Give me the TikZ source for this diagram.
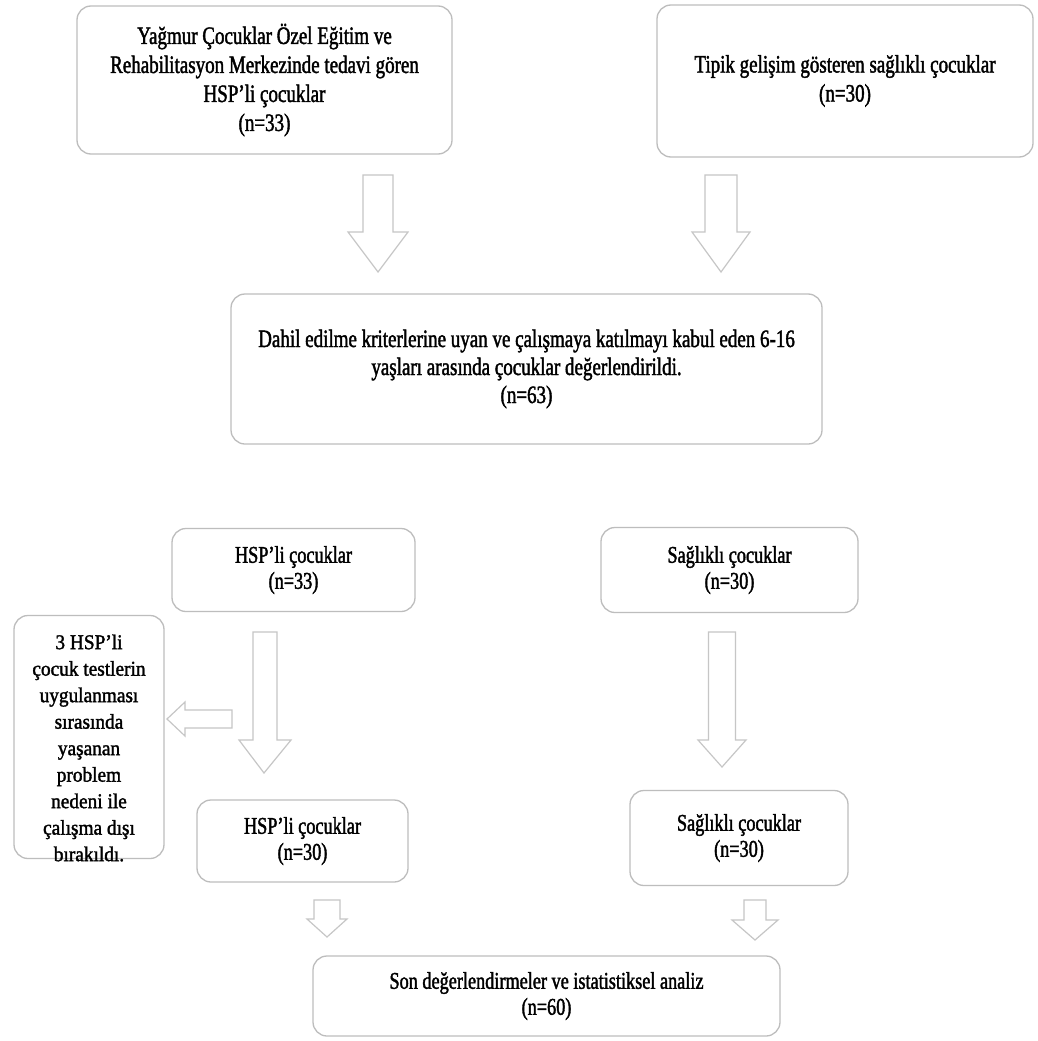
\documentclass[tikz,border=0pt]{standalone}
\usepackage{fontspec}
\setmainfont{Liberation Serif}
\newfontfamily\boxfont[FakeStretch=0.76,FakeBold=1.6]{Liberation Serif}
\newfontfamily\sidefont[FakeStretch=0.92,FakeBold=1.6]{Liberation Serif}
\usetikzlibrary{calc}
\definecolor{boxline}{HTML}{BDBDBD}
\definecolor{arrline}{HTML}{C6C6C6}
\tikzset{
  flowbox/.style={draw=boxline, line width=1.3pt, rounded corners=14pt, fill=white,
    align=center, inner sep=0pt, font=\boxfont\fontsize{25}{29}\selectfont, text=black},
  lowbox/.style={flowbox, font=\boxfont\fontsize{24}{26}\selectfont},
  sidetext/.style={align=center, inner sep=0pt, font=\sidefont\fontsize{21}{26.5}\selectfont, text=black},
  blockarrow/.style={draw=arrline, line width=1.2pt, fill=white, line join=miter},
}
% vertical block arrow: #1 start coordinate, #2 tip coordinate, #3 half shaft, #4 half head, #5 head length
\newcommand\blockdown[5]{%
  \draw[blockarrow] let \p1=(#1), \p2=(#2) in
    (\x1-#3,\y1) -- (\x1+#3,\y1) -- (\x1+#3,\y2+#5) -- (\x1+#4,\y2+#5) -- (\x2,\y2)
    -- (\x1-#4,\y2+#5) -- (\x1-#3,\y2+#5) -- cycle;}
% leftward block arrow
\newcommand\blockleft[5]{%
  \draw[blockarrow] let \p1=(#1), \p2=(#2) in
    (\x1,\y1+#3) -- (\x1,\y1-#3) -- (\x2+#5,\y1-#3) -- (\x2+#5,\y1-#4) -- (\x2,\y2)
    -- (\x2+#5,\y1+#4) -- (\x2+#5,\y1+#3) -- cycle;}
\begin{document}
\begin{tikzpicture}[x=1pt,y=-1pt]
\useasboundingbox (0,0) rectangle (1038,1041);
\fill[white] (0,0) rectangle (1038,1041);

% boxes
\node[flowbox, minimum width=375pt, minimum height=148pt] (top1) at (264.5,80)
  {Yağmur Çocuklar Özel Eğitim ve\\Rehabilitasyon Merkezinde tedavi gören\\HSP’li çocuklar\\(n=33)};
\node[flowbox, minimum width=376pt, minimum height=152pt] (top2) at (845,81)
  {Tipik gelişim gösteren sağlıklı çocuklar\\(n=30)};
\node[flowbox, font=\boxfont\fontsize{25}{28}\selectfont, minimum width=591pt, minimum height=150pt] (mid) at (526.5,369)
  {Dahil edilme kriterlerine uyan ve çalışmaya katılmayı kabul eden 6-16\\yaşları arasında çocuklar değerlendirildi.\\(n=63)};
\node[lowbox, minimum width=243pt, minimum height=83pt] (hsp1) at (293.5,570)
  {HSP’li çocuklar\\(n=33)};
\node[lowbox, minimum width=257pt, minimum height=85pt] (sag1) at (729.5,570)
  {Sağlıklı çocuklar\\(n=30)};
\node[flowbox, minimum width=150pt, minimum height=243pt] (excl) at (89,737) {};
\node[sidetext] (excltext) at (89,748)
  {3 HSP’li\\çocuk testlerin\\uygulanması\\sırasında\\yaşanan\\problem\\nedeni ile\\çalışma dışı\\bırakıldı.};
\node[lowbox, minimum width=211pt, minimum height=82pt] (hsp2) at (302.5,841)
  {HSP’li çocuklar\\(n=30)};
\node[lowbox, minimum width=218pt, minimum height=95pt] (sag2) at (739,838)
  {Sağlıklı çocuklar\\(n=30)};
\node[lowbox, minimum width=467pt, minimum height=80pt] (final) at (546.5,996)
  {Son değerlendirmeler ve istatistiksel analiz\\(n=60)};

% arrow coordinates
\coordinate (a1s) at (378,175); \coordinate (a1t) at (378,272);
\coordinate (a2s) at (721,175); \coordinate (a2t) at (721,272);
\coordinate (a3s) at (265,632); \coordinate (a3t) at (264,773);
\coordinate (a4s) at (722,632); \coordinate (a4t) at (722,767);
\coordinate (a5s) at (327,900); \coordinate (a5t) at (327,937);
\coordinate (a6s) at (755,900); \coordinate (a6t) at (755,940);
\coordinate (a7s) at (232,719); \coordinate (a7t) at (167,719);

\blockdown{a1s}{a1t}{15}{30}{40}
\blockdown{a2s}{a2t}{16}{29}{40}
\blockdown{a3s}{a3t}{12}{26}{33}
\blockdown{a4s}{a4t}{13.5}{24}{27}
\blockdown{a5s}{a5t}{13}{20}{18}
\blockdown{a6s}{a6t}{11}{23}{20}
\blockleft{a7s}{a7t}{9}{17}{18}
\end{tikzpicture}
\end{document}
